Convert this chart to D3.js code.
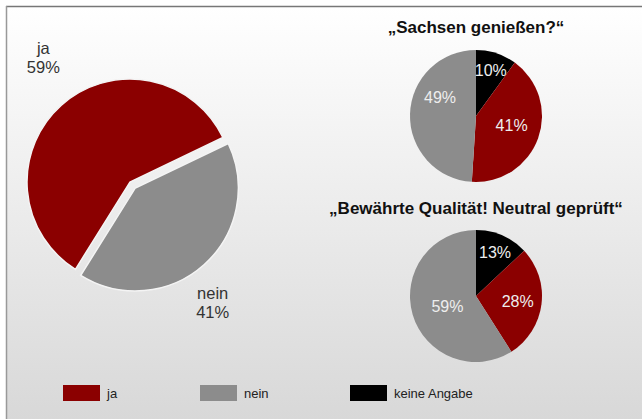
<!DOCTYPE html>
<html>
<head>
<meta charset="utf-8">
<script src="https://cdn.jsdelivr.net/npm/d3@7"></script>
<style>
  body { margin: 0; background: #fff; }
  svg { display: block; font-family: Arial, "Liberation Sans", sans-serif; }
</style>
</head>
<body>
<div id="chart"></div>
<script>
'use strict';

// categories + colours
const categories = ["ja", "nein", "keine Angabe"];
const colors = ["#8b0000", "#8c8c8c", "#000000"];

// main pie: ja / nein
const mainValues = [59, 41];

// small pies, order: keine Angabe, ja, nein
const smallTitles = ["\u201ESachsen genie\u00DFen?\u201C", "\u201EBew\u00E4hrte Qualit\u00E4t! Neutral gepr\u00FCft\u201C"];
const sachsenValues = [10, 41, 49];
const qualitaetValues = [13, 28, 59];

const width = 642, height = 419;

const svg = d3.select("#chart").append("svg")
	.attr("width", width)
	.attr("height", height);

// background gradient
const grad = svg.append("defs").append("linearGradient")
	.attr("id", "bg")
	.attr("x1", 0).attr("y1", 0).attr("x2", 0).attr("y2", 1);
grad.append("stop").attr("offset", "0%").attr("stop-color", "#ffffff");
grad.append("stop").attr("offset", "100%").attr("stop-color", "#d8d8d8");

svg.append("rect")
	.attr("x", 7).attr("y", 7)
	.attr("width", width - 7).attr("height", height - 7)
	.attr("fill", "url(#bg)");

// frame (top + left only)
svg.append("line")
	.attr("x1", 6).attr("y1", 6.5).attr("x2", width).attr("y2", 6.5)
	.attr("stroke", "#777").attr("stroke-width", 1.5);
svg.append("line")
	.attr("x1", 6.5).attr("y1", 6).attr("x2", 6.5).attr("y2", height)
	.attr("stroke", "#999").attr("stroke-width", 1.5);

// ---- main pie
const mainR = 103;
const mainG = svg.append("g").attr("transform", "translate(130,182)");

const mainPie = d3.pie()
	.sort(null)
	.startAngle(-148 * Math.PI / 180)
	.endAngle(212 * Math.PI / 180);

const mainArc = d3.arc().innerRadius(0).outerRadius(mainR);
const explode = [0, 8];
const labelShift = [[12, -14], [-16, 10]];

const mainArcs = mainPie(mainValues);

mainG.selectAll("path")
	.data(mainArcs)
	.join("path")
	.attr("d", mainArc)
	.attr("fill", (d, i) => colors[i])
	.attr("stroke", "#f4f4f4")
	.attr("stroke-width", 1.5)
	.attr("transform", (d, i) => {
		const a = (d.startAngle + d.endAngle) / 2;
		return `translate(${Math.sin(a) * explode[i]},${-Math.cos(a) * explode[i]})`;
	});

const mainLabelR = 148;
const mainLabels = mainG.selectAll("text.lbl")
	.data(mainArcs)
	.join("text")
	.attr("class", "lbl")
	.attr("text-anchor", "middle")
	.attr("font-size", 16.5)
	.attr("fill", "#333")
	.attr("transform", (d, i) => {
		const a = (d.startAngle + d.endAngle) / 2;
		const x = Math.sin(a) * mainLabelR + labelShift[i][0];
		const y = -Math.cos(a) * mainLabelR + labelShift[i][1];
		return `translate(${x},${y})`;
	});
mainLabels.append("tspan").attr("x", 0).attr("dy", "-0.2em").text((d, i) => categories[i]);
mainLabels.append("tspan").attr("x", 0).attr("dy", "1.15em").text(d => d.value + "%");

// ---- small pies
const smallR = 66;
const smallPie = d3.pie().sort(null);
const smallArc = d3.arc().innerRadius(0).outerRadius(smallR);
const smallOrder = [2, 0, 1]; // keine Angabe, ja, nein -> colour index
const smallLabelArc = [
	d3.arc().innerRadius(48).outerRadius(48),
	d3.arc().innerRadius(40).outerRadius(40),
	d3.arc().innerRadius(36).outerRadius(36)
];

function smallChart(title, values, cx, cy, titleY, shifts) {
	svg.append("text")
		.attr("x", cx)
		.attr("y", titleY)
		.attr("text-anchor", "middle")
		.attr("font-size", 17)
		.attr("font-weight", "bold")
		.attr("fill", "#111")
		.text(title);

	const g = svg.append("g").attr("transform", `translate(${cx},${cy})`);
	const arcs = smallPie(values);

	g.selectAll("path")
		.data(arcs)
		.join("path")
		.attr("d", smallArc)
		.attr("fill", (d, i) => colors[smallOrder[i]]);

	g.selectAll("text")
		.data(arcs)
		.join("text")
		.attr("transform", (d, i) => {
			const c = smallLabelArc[i].centroid(d);
			return `translate(${c[0] + shifts[i][0]},${c[1] + shifts[i][1]})`;
		})
		.attr("text-anchor", "middle")
		.attr("dy", "0.35em")
		.attr("font-size", 16)
		.attr("fill", "#eeeeee")
		.text(d => d.value + "%");
}

smallChart(smallTitles[0], sachsenValues, 476, 116, 33, [[0, 0], [-2, -4], [0, -17]]);
smallChart(smallTitles[1], qualitaetValues, 476, 296, 214, [[0, 0], [2, 0], [6, 0]]);

// ---- legend
const legendX = [63, 200, 350];
const legend = svg.append("g").attr("transform", "translate(0,385)");
const items = legend.selectAll("g")
	.data(categories)
	.join("g")
	.attr("transform", (d, i) => `translate(${legendX[i]},0)`);
items.append("rect")
	.attr("width", 37)
	.attr("height", 16)
	.attr("fill", (d, i) => colors[i]);
items.append("text")
	.attr("x", 44)
	.attr("y", 13)
	.attr("font-size", 13)
	.attr("fill", "#222")
	.text(d => d);
</script>
</body>
</html>
